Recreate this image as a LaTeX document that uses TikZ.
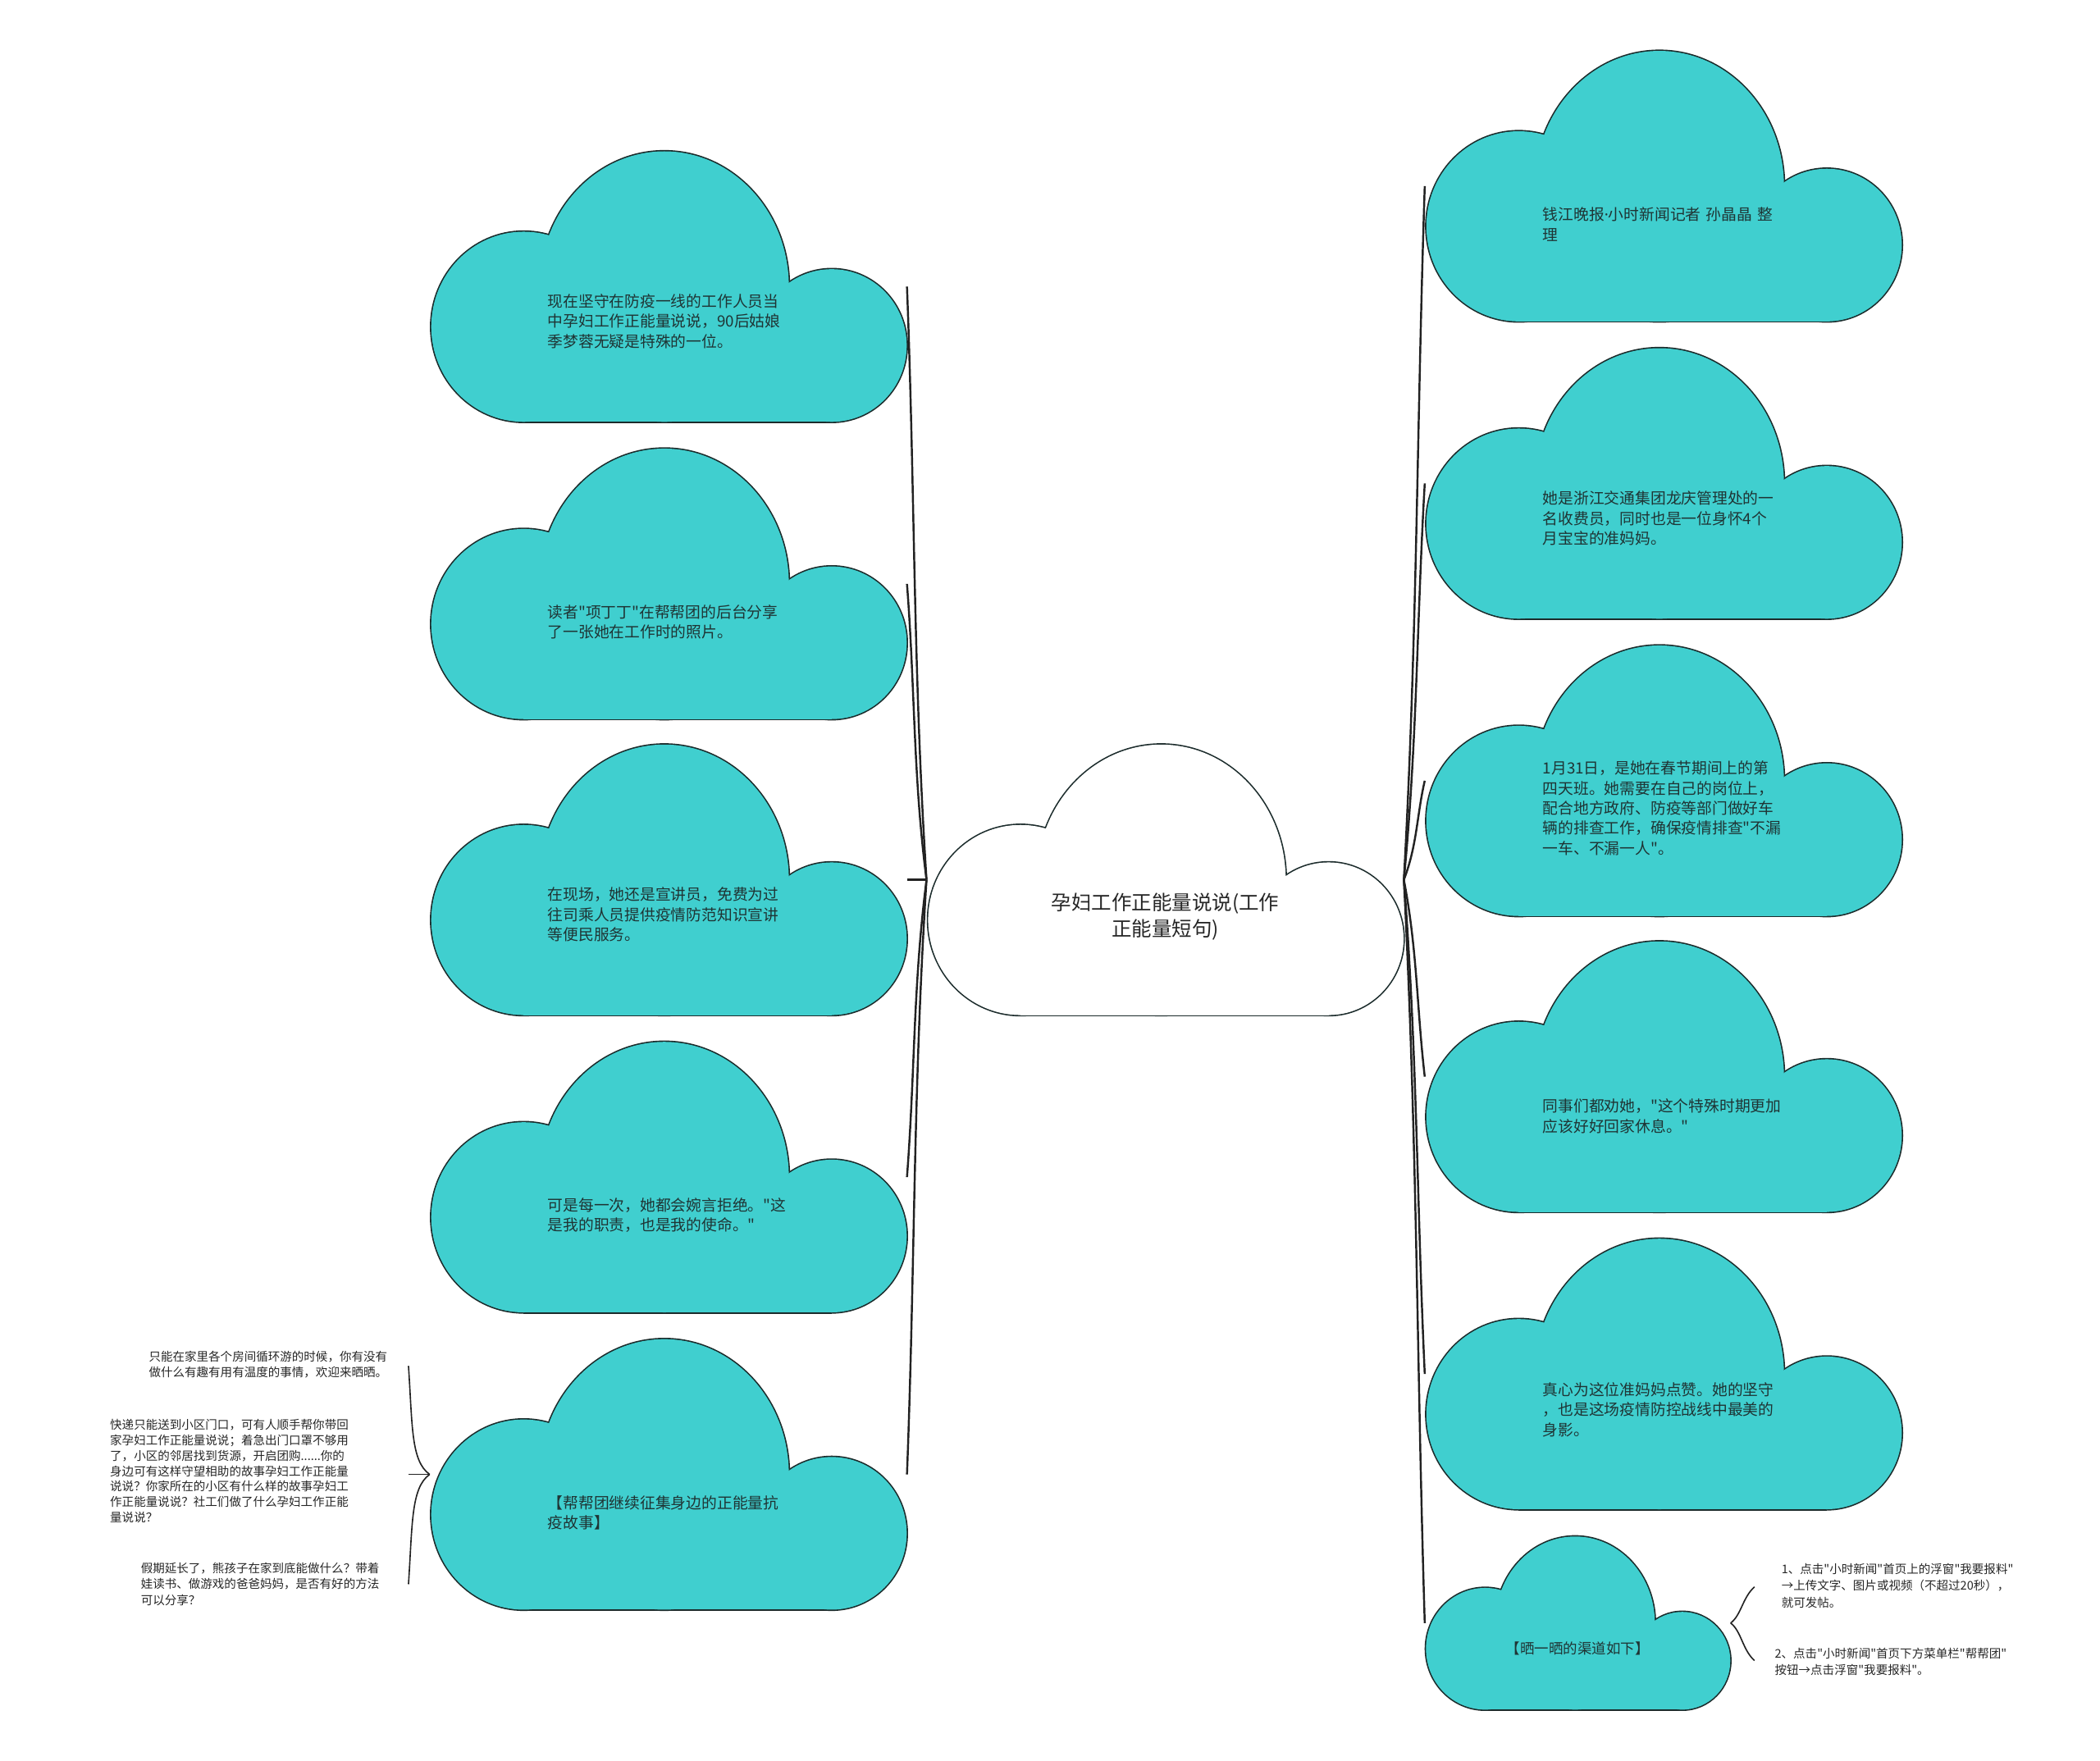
\documentclass[tikz,border=0pt]{standalone}
\usepackage{fontspec}
\setmainfont{Noto Sans CJK SC}[Ligatures=TeXOff]
\newfontfamily\latinfont{Noto Sans}
\usepackage{tikz}
\usetikzlibrary{positioning, calc}

\definecolor{cloudFill}{HTML}{40CFCF}
\definecolor{cloudLine}{HTML}{1B2B2B}
\definecolor{inkDark}{HTML}{1F3434}
\definecolor{linkGray}{HTML}{222222}

\begin{document}
\begin{tikzpicture} [x=1pt, y=-1pt,
                box/.style={rectangle, inner sep=0pt, minimum width=356pt, minimum height=202pt},
                smallbox/.style={rectangle, inner sep=0pt, minimum width=228pt, minimum height=130pt},
                txt/.style={inner sep=0pt, text width=180pt, align=left, text=inkDark, font=\fontsize{11.5pt}{15pt}\selectfont},
                note/.style={inner sep=0pt, text width=182pt, align=left, anchor=west, text=black!85, font=\fontsize{8.9pt}{12pt}\selectfont},
                link/.style={draw=linkGray, line width=1.5pt},
                brace/.style={draw=linkGray, line width=1pt},
                pics/cloud/.style={code={
                    \draw[cloudLine, line width=2pt] (-108,30) ellipse [x radius=69, y radius=71];
                    \draw[cloudLine, line width=2pt] (-3,0) ellipse [x radius=93, y radius=101];
                    \draw[cloudLine, line width=2pt] (122,44) ellipse [x radius=56, y radius=57];
                    \draw[cloudLine, line width=2pt] (-108,101) -- (122,101);
                    \fill[#1] (-108,30) ellipse [x radius=69, y radius=71];
                    \fill[#1] (-3,0) ellipse [x radius=93, y radius=101];
                    \fill[#1] (122,44) ellipse [x radius=56, y radius=57];
                    \fill[#1] (-108,0) rectangle (122,101);
                }}
            ]
            \useasboundingbox (0,0) rectangle (1568,1315);

            % Root
            \begin{scope}
                \node[box] (root) at (870,657) {};
                \pic at (root.center) {cloud=white};
                \node[txt, text width=200pt, align=center, text=black!85, font=\fontsize{15pt}{19.5pt}\selectfont] (rootText) at (870,684.5) {孕妇工作正能量说说(工作\\正能量短句)};
            \end{scope}

            % Left Group
            \begin{scope}
                \node[box] (onDuty) at (499,214) {};
                \pic at (onDuty.center) {cloud=cloudFill};
                \node[txt] (onDutyText) at (499,240) {现在坚守在防疫一线的工作人员当\\中孕妇工作正能量说说，90后姑娘\\季梦蓉无疑是特殊的一位。};

                \node[box] (reader) at (499,436) {};
                \pic at (reader.center) {cloud=cloudFill};
                \node[txt] (readerText) at (499,464.5) {读者"项丁丁"在帮帮团的后台分享\\了一张她在工作时的照片。};

                \node[box] (promoter) at (499,657) {};
                \pic at (promoter.center) {cloud=cloudFill};
                \node[txt] (promoterText) at (499,683) {在现场，她还是宣讲员，免费为过\\往司乘人员提供疫情防范知识宣讲\\等便民服务。};

                \node[box] (refusal) at (499,879) {};
                \pic at (refusal.center) {cloud=cloudFill};
                \node[txt] (refusalText) at (499,907.5) {可是每一次，她都会婉言拒绝。"这\\是我的职责，也是我的使命。"};

                \node[box] (collect) at (499,1101) {};
                \pic at (collect.center) {cloud=cloudFill};
                \node[txt] (collectText) at (499,1129.5) {【帮帮团继续征集身边的正能量抗\\疫故事】};
            \end{scope}

            % Right Group
            \begin{scope}
                \node[box] (reporter) at (1242,139) {};
                \pic at (reporter.center) {cloud=cloudFill};
                \node[txt] (reporterText) at (1242,167.5) {钱江晚报{\latinfont ·}小时新闻记者~孙晶晶~整\\理};

                \node[box] (tollWorker) at (1242,361) {};
                \pic at (tollWorker.center) {cloud=cloudFill};
                \node[txt] (tollWorkerText) at (1242,387) {她是浙江交通集团龙庆管理处的一\\名收费员，同时也是一位身怀4个\\月宝宝的准妈妈。};

                \node[box] (shift) at (1242,583) {};
                \pic at (shift.center) {cloud=cloudFill};
                \node[txt] (shiftText) at (1242,603.5) {1月31日，是她在春节期间上的第\\四天班。她需要在自己的岗位上，\\配合地方政府、防疫等部门做好车\\辆的排查工作，确保疫情排查"不漏\\一车、不漏一人"。};

                \node[box] (advice) at (1242,804) {};
                \pic at (advice.center) {cloud=cloudFill};
                \node[txt] (adviceText) at (1242,833.5) {同事们都劝她，"这个特殊时期更加\\应该好好回家休息。"};

                \node[box] (praise) at (1242,1026) {};
                \pic at (praise.center) {cloud=cloudFill};
                \node[txt] (praiseText) at (1242,1052.5) {真心为这位准妈妈点赞。她的坚守\\，也是这场疫情防控战线中最美的\\身影。};

                \node[smallbox] (channels) at (1178,1212) {};
                \pic[scale=0.64] at (channels.center) {cloud=cloudFill};
                \node[txt, align=center, font=\fontsize{10.7pt}{14pt}\selectfont] (channelsText) at (1178,1231) {【晒一晒的渠道如下】};
            \end{scope}

            % Notes
            \node[note] (tipHome) at (111,1019) {只能在家里各个房间循环游的时候，你有没有\\做什么有趣有用有温度的事情，欢迎来晒晒。};
            \node[note, font=\fontsize{8.9pt}{11.5pt}\selectfont] (tipNeighbour) at (82,1098.5) {快递只能送到小区门口，可有人顺手帮你带回\\家孕妇工作正能量说说；着急出门口罩不够用\\了，小区的邻居找到货源，开启团购......你的\\身边可有这样守望相助的故事孕妇工作正能量\\说说？你家所在的小区有什么样的故事孕妇工\\作正能量说说？社工们做了什么孕妇工作正能\\量说说？};
            \node[note] (tipKids) at (105,1183) {假期延长了，熊孩子在家到底能做什么？带着\\娃读书、做游戏的爸爸妈妈，是否有好的方法\\可以分享？};
            \node[note, font=\fontsize{8.9pt}{12.5pt}\selectfont] (stepApp) at (1330,1184) {1、点击"小时新闻"首页上的浮窗"我要报料"\\→上传文字、图片或视频（不超过20秒），\\就可发帖。};
            \node[note] (stepMenu) at (1325,1241) {2、点击"小时新闻"首页下方菜单栏"帮帮团"\\按钮→点击浮窗"我要报料"。};

            \coordinate (homeEnd) at (305,1020);
            \coordinate (neighbourEnd) at (305,1101);
            \coordinate (kidsEnd) at (305,1183);
            \coordinate (appEnd) at (1310,1185);
            \coordinate (menuEnd) at (1310,1240);

            % Connections
            \draw[link] (root.west) .. controls +(-10,-155) and +(6,155) .. (onDuty.east);
            \draw[link] (root.west) .. controls +(-10,-77) and +(6,77) .. (reader.east);
            \draw[link] (root.west) -- (promoter.east);
            \draw[link] (root.west) .. controls +(-10,78) and +(6,-78) .. (refusal.east);
            \draw[link] (root.west) .. controls +(-10,155) and +(6,-155) .. (collect.east);

            \draw[link] (root.east) .. controls +(10,-181) and +(-6,181) .. (reporter.west);
            \draw[link] (root.east) .. controls +(10,-104) and +(-6,104) .. (tollWorker.west);
            \draw[link] (root.east) .. controls +(10,-26) and +(-6,26) .. (shift.west);
            \draw[link] (root.east) .. controls +(10,52) and +(-6,-52) .. (advice.west);
            \draw[link] (root.east) .. controls +(10,129) and +(-6,-129) .. (praise.west);
            \draw[link] (root.east) .. controls +(10,194) and +(-6,-194) .. (channels.west);

            \draw[brace] (collect.west) .. controls +(-14,-10) and +(3,45) .. (homeEnd);
            \draw[brace] (collect.west) -- (neighbourEnd);
            \draw[brace] (collect.west) .. controls +(-14,10) and +(3,-45) .. (kidsEnd);
            \draw[brace] (channels.east) .. controls +(8,-6) and +(-9,8) .. (appEnd);
            \draw[brace] (channels.east) .. controls +(8,6) and +(-9,-8) .. (menuEnd);
        \end{tikzpicture}
\end{document}
